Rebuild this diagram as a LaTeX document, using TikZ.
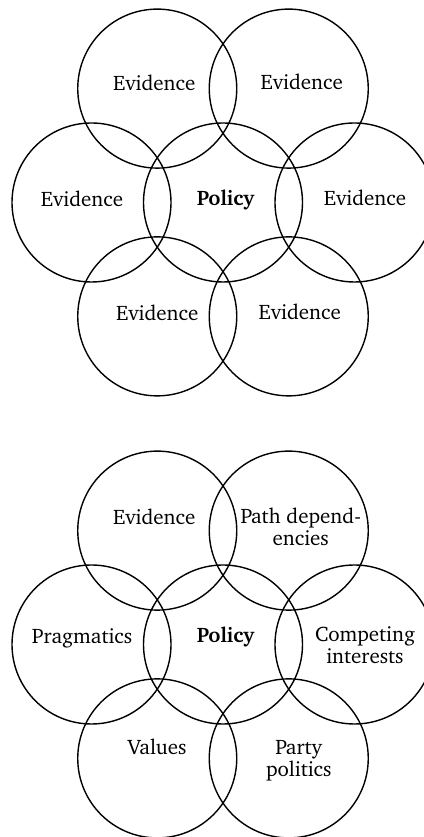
\documentclass[tikz,border=0pt]{standalone}
\usepackage[T1]{fontenc}
\usepackage{charter}
\usepackage{tikz}
\tikzset{
  ring/.style={draw=black, circle, line width=1.4pt, minimum size=159pt, inner sep=0pt, outer sep=0pt},
  lab/.style={font=\fontsize{21}{22}\selectfont, align=center, anchor=base, inner sep=0pt},
  labb/.style={lab, font=\fontsize{21}{22}\selectfont\bfseries},
}

\begin{document}
\begin{tikzpicture}[x=1pt,y=1pt]
  \useasboundingbox (0,0) rectangle (423,837);
  \def\d{131.5}
  \coordinate (A) at (223,634.5);
  \coordinate (B) at (223,192.5);

  \foreach \P in {A,B}{
    \node[ring] (c\P) at (\P) {};
    \foreach \n/\ang in {tl/120,tr/60,ml/180,mr/0,bl/240,br/300}{
      \node[ring] (\n\P) at ([shift={(\ang:\d)}]\P) {};
    }
  }

  % upper picture: evidence all round
  \node[labb] (polA) at ([shift={(2.5,-3.5)}]cA.center) {Policy};
  \node[lab] (evtlA) at ([shift={(-3,-2)}]tlA.center) {Evidence};
  \node[lab] (evtrA) at ([shift={(13,-1)}]trA.center) {Evidence};
  \node[lab] (evmlA) at ([shift={(-9.5,-4.5)}]mlA.center) {Evidence};
  \node[lab] (evmrA) at ([shift={(10.5,-3.5)}]mrA.center) {Evidence};
  \node[lab] (evblA) at ([shift={(0,-4)}]blA.center) {Evidence};
  \node[lab] (evbrA) at ([shift={(11,-3.5)}]brA.center) {Evidence};

  % lower picture: the other forces (base = last line)
  \node[labb] (polB) at ([shift={(2.5,1.5)}]cB.center) {Policy};
  \node[lab] (evB) at ([shift={(-3,6.3)}]tlB.center) {Evidence};
  \node[lab] (pathB) at ([shift={(12,-14.4)}]trB.center) {Path depend-\\encies};
  \node[lab] (pragB) at ([shift={(-9.5,0.5)}]mlB.center) {Pragmatics};
  \node[lab] (compB) at ([shift={(10.5,-19.5)}]mrB.center) {Competing\\interests};
  \node[lab] (valB) at ([shift={(0,3.4)}]blB.center) {Values};
  \node[lab] (partyB) at ([shift={(10,-18.6)}]brB.center) {Party\\politics};
\end{tikzpicture}
\end{document}
